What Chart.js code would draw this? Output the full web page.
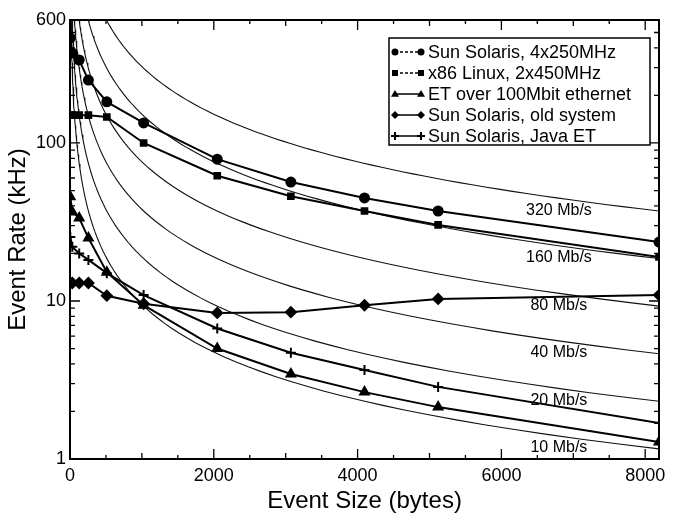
<!DOCTYPE html>
<html>
<head>
<meta charset="utf-8">
<script src="https://cdn.jsdelivr.net/npm/chart.js@4.4.1/dist/chart.umd.min.js"></script>
<style>
  html, body { margin: 0; padding: 0; background: #fff; }
</style>
</head>
<body>
<canvas id="chart_rates" width="678" height="517"></canvas>
<script>
// event sizes (bytes) used by every measured series
var sizes = [4, 32, 128, 256, 512, 1024, 2048, 3072, 4096, 5120, 8192];

// event rates in kHz
var solarisNew = [462, 371, 335, 250, 182, 134, 79, 56.6, 44.9, 37.1, 23.6];
var x86Linux   = [150, 150, 150, 150, 146, 100, 62, 46, 37.1, 30.3, 19.0];
var etEthernet = [45.6, 36.6, 33.5, 25, 15.2, 9.4, 5.0, 3.45, 2.65, 2.13, 1.28];
var solarisOld = [13, 13, 13, 13, 10.8, 9.6, 8.4, 8.5, 9.4, 10.3, 10.9];
var solarisJava = [25.4, 22, 20, 18.2, 15, 10.9, 6.7, 4.7, 3.66, 2.86, 1.69];

var seriesNames = [
  'Sun Solaris, 4x250MHz',
  'x86 Linux, 2x450MHz',
  'ET over 100Mbit ethernet',
  'Sun Solaris, old system',
  'Sun Solaris, Java ET'
];

// constant bandwidth guide curves
var bandwidths = [320, 160, 80, 40, 20, 10];
var bandwidthNames = ['320 Mb/s', '160 Mb/s', '80 Mb/s', '40 Mb/s', '20 Mb/s', '10 Mb/s'];
var rateScale = 950; // kHz*bytes per Mb/s, as drawn in the original

var xTicks = [0, 2000, 4000, 6000, 8000];
var yTicks = [1, 10, 100, 600];

var FONT = "'Liberation Sans', Arial, Helvetica, sans-serif";
Chart.defaults.font.family = FONT;
Chart.defaults.color = '#000';

function toPoints(values) {
  return values.map(function (v, i) { return { x: sizes[i], y: v }; });
}

function bandwidthCurve(bw) {
  var c = bw * rateScale;
  var x0 = c / 650, pts = [];
  for (var i = 0; i <= 90; i++) {
    var x = x0 * Math.pow(8192 / x0, i / 90);
    pts.push({ x: x, y: c / x });
  }
  return pts;
}

var styles = [
  { pointStyle: 'circle', radius: 4.5 },
  { pointStyle: 'rect', radius: 4 },
  { pointStyle: 'triangle', radius: 5 },
  { pointStyle: 'rectRot', radius: 5 },
  { pointStyle: 'cross', radius: 5 }
];

var datasets = [solarisNew, x86Linux, etEthernet, solarisOld, solarisJava].map(function (vals, i) {
  return {
    label: seriesNames[i],
    data: toPoints(vals),
    borderColor: '#000',
    backgroundColor: '#000',
    borderWidth: 2,
    pointStyle: styles[i].pointStyle,
    pointRadius: styles[i].radius,
    pointBorderWidth: 2,
    pointBackgroundColor: '#000',
    pointBorderColor: '#000',
    tension: 0
  };
});

bandwidths.forEach(function (bw, i) {
  datasets.push({
    label: bandwidthNames[i],
    data: bandwidthCurve(bw),
    borderColor: '#111',
    borderWidth: 1.1,
    pointRadius: 0,
    tension: 0
  });
});

function drawMarker(ctx, style, x, y, r) {
  ctx.beginPath();
  if (style === 'circle') {
    ctx.arc(x, y, r, 0, Math.PI * 2);
    ctx.fill();
  } else if (style === 'rect') {
    ctx.fillRect(x - r, y - r, 2 * r, 2 * r);
  } else if (style === 'triangle') {
    ctx.moveTo(x, y - r);
    ctx.lineTo(x + r, y + r * 0.7);
    ctx.lineTo(x - r, y + r * 0.7);
    ctx.closePath();
    ctx.fill();
  } else if (style === 'rectRot') {
    ctx.moveTo(x, y - r);
    ctx.lineTo(x + r, y);
    ctx.lineTo(x, y + r);
    ctx.lineTo(x - r, y);
    ctx.closePath();
    ctx.fill();
  } else {
    ctx.moveTo(x - r, y); ctx.lineTo(x + r, y);
    ctx.moveTo(x, y - r); ctx.lineTo(x, y + r);
    ctx.stroke();
  }
}

var decorPlugin = {
  id: 'decor',
  afterDatasetsDraw: function (chart) {
    var ctx = chart.ctx, a = chart.chartArea;
    var xs = chart.scales.x, ys = chart.scales.y;
    ctx.save();
    ctx.strokeStyle = '#000';
    ctx.fillStyle = '#000';

    // inner ticks on all four sides
    ctx.lineWidth = 1.3;
    ctx.beginPath();
    for (var v = 500; v < 8192; v += 500) {
      var px = xs.getPixelForValue(v);
      var len = v % 2000 === 0 ? 10 : (v % 1000 === 0 ? 6 : 4);
      ctx.moveTo(px, a.bottom); ctx.lineTo(px, a.bottom - len);
      ctx.moveTo(px, a.top); ctx.lineTo(px, a.top + len);
    }
    [1, 10, 100].forEach(function (d) {
      for (var m = 1; m <= 9; m++) {
        var val = m * d;
        if (val > 600 || val === 1) continue;
        var py = ys.getPixelForValue(val);
        var l = m === 1 ? 10 : 5;
        ctx.moveTo(a.left, py); ctx.lineTo(a.left + l, py);
        ctx.moveTo(a.right, py); ctx.lineTo(a.right - l, py);
      }
    });
    ctx.stroke();

    // frame
    ctx.lineWidth = 2;
    ctx.strokeRect(a.left, a.top, a.right - a.left, a.bottom - a.top);

    // bandwidth labels just under their curves
    ctx.font = '16px ' + FONT;
    ctx.textAlign = 'center';
    ctx.textBaseline = 'middle';
    bandwidths.forEach(function (bw, i) {
      var lx = 6800;
      var py = ys.getPixelForValue(bw * rateScale / lx) + 12;
      ctx.fillText(bandwidthNames[i], xs.getPixelForValue(lx), py);
    });

    // legend box inside the plot
    var bx = 389, by = 38, bw2 = 261, bh = 107;
    ctx.fillStyle = '#fff';
    ctx.fillRect(bx, by, bw2, bh);
    ctx.lineWidth = 1.5;
    ctx.strokeRect(bx, by, bw2, bh);
    ctx.fillStyle = '#000';
    ctx.font = '18px ' + FONT;
    ctx.textAlign = 'left';
    seriesNames.forEach(function (name, i) {
      var y = by + 14 + i * 21;
      var x1 = bx + 6, x2 = bx + 32;
      ctx.lineWidth = 1.5;
      ctx.setLineDash(i < 2 ? [3, 2] : []);
      ctx.beginPath(); ctx.moveTo(x1, y); ctx.lineTo(x2, y); ctx.stroke();
      ctx.setLineDash([]);
      ctx.lineWidth = 2;
      var r = styles[i].radius - 1;
      drawMarker(ctx, styles[i].pointStyle, x1, y, r);
      drawMarker(ctx, styles[i].pointStyle, x2, y, r);
      ctx.fillText(name, bx + 39, y + 1);
    });
    ctx.restore();
  }
};

var ctx = document.getElementById('chart_rates');
var myChart = new Chart(ctx, {
  type: 'line',
  data: { datasets: datasets },
  plugins: [decorPlugin],
  options: {
    responsive: false,
    animation: false,
    layout: { padding: { left: 0, right: 19, top: 20, bottom: 0 } },
    plugins: { legend: { display: false }, tooltip: { enabled: false } },
    scales: {
      x: {
        type: 'linear',
        min: 0,
        max: 8192,
        grid: { display: false, drawTicks: false },
        border: { display: false },
        afterBuildTicks: function (scale) {
          scale.ticks = xTicks.map(function (v) { return { value: v }; });
        },
        afterFit: function (scale) { scale.height = 58; },
        ticks: {
          padding: 6,
          maxRotation: 0,
          font: { size: 18 },
          callback: function (v) { return String(v); }
        },
        title: {
          display: true,
          text: 'Event Size (bytes)',
          font: { size: 24 },
          padding: { top: 0, bottom: 1 }
        }
      },
      y: {
        type: 'logarithmic',
        min: 1,
        max: 600,
        grid: { display: false, drawTicks: false },
        border: { display: false },
        afterBuildTicks: function (scale) {
          scale.ticks = yTicks.map(function (v) { return { value: v }; });
        },
        afterFit: function (scale) { scale.width = 70; },
        ticks: {
          padding: 4,
          font: { size: 18 },
          callback: function (v) { return String(v); }
        },
        title: {
          display: true,
          text: 'Event Rate (kHz)',
          font: { size: 24 },
          padding: { top: 4, bottom: 0 }
        }
      }
    }
  }
});
</script>
</body>
</html>
